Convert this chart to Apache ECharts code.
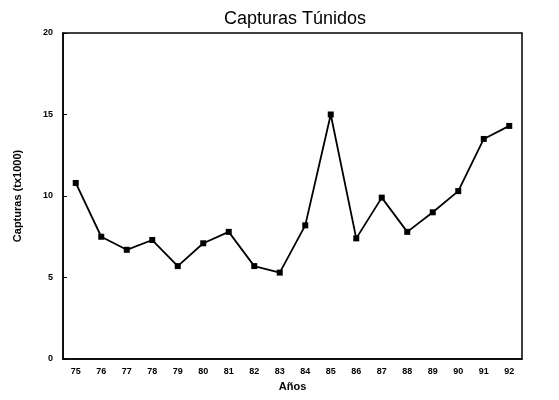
<!DOCTYPE html>
<html>
<head>
<meta charset="utf-8">
<script src="https://cdn.jsdelivr.net/npm/echarts@6/dist/echarts.min.js"></script>
<style>
  html, body { margin: 0; padding: 0; background: #fff; }
  #chart { width: 559px; height: 400px; }
</style>
</head>
<body>
<div id="chart"></div>
<script>
// años (eje x) y capturas en miles de toneladas
const years = ["75", "76", "77", "78", "79", "80", "81", "82", "83",
  "84", "85", "86", "87", "88", "89", "90", "91", "92"];
const capturas = [10.8, 7.5, 6.7, 7.3, 5.7, 7.1, 7.8, 5.7, 5.3,
  8.2, 15.0, 7.4, 9.9, 7.8, 9.0, 10.3, 13.5, 14.3];
const yTicks = [0, 5, 10, 15, 20];

const chart = echarts.init(document.getElementById("chart"));
const labelFont = {
  fontFamily: "Liberation Sans",
  fontWeight: "bold",
  fontSize: 9,
  color: "#000",
};

chart.setOption({
  animation: false,
  title: {
    text: "Capturas Túnidos",
    left: 290,
    top: 5,
    textAlign: "center",
    textStyle: {
      fontFamily: "Liberation Sans",
      fontWeight: "normal",
      fontSize: 18,
      color: "#000",
    },
  },
  grid: {
    left: 63,
    right: 37,
    top: 33,
    bottom: 41,
    show: true,
    borderColor: "#000",
    borderWidth: 1.5,
  },
  xAxis: {
    type: "category",
    data: years,
    boundaryGap: true,
    name: "Años",
    nameLocation: "middle",
    nameGap: 22,
    nameTextStyle: { ...labelFont, fontSize: 11 },
    axisLine: { lineStyle: { color: "#000", width: 1.5 } },
    axisTick: { inside: true, length: 4, alignWithLabel: true, lineStyle: { color: "#000" } },
    axisLabel: { ...labelFont, margin: 8 },
    splitLine: { show: false },
  },
  yAxis: {
    type: "value",
    min: yTicks[0],
    max: yTicks[yTicks.length - 1],
    interval: 5,
    name: "Capturas (tx1000)",
    nameLocation: "middle",
    nameGap: 40,
    nameTextStyle: { ...labelFont, fontSize: 11 },
    axisLine: { show: true, lineStyle: { color: "#000", width: 1.5 } },
    axisTick: { show: true, inside: true, length: 4, lineStyle: { color: "#000" } },
    axisLabel: { ...labelFont, margin: 10 },
    splitLine: { show: false },
  },
  series: [
    {
      type: "line",
      data: capturas,
      symbol: "rect",
      symbolSize: 6,
      showAllSymbol: true,
      lineStyle: { color: "#000", width: 1.8 },
      itemStyle: { color: "#000" },
    },
  ],
});
</script>
</body>
</html>
